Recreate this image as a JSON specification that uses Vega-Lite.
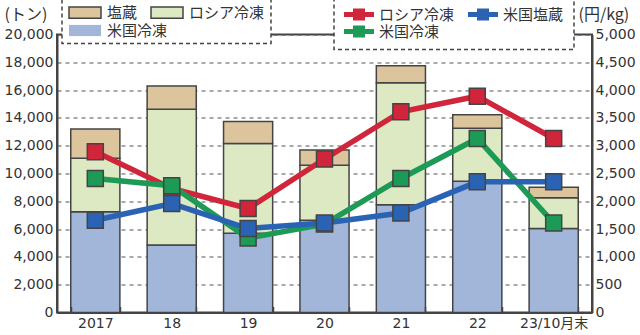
{
  "$schema": "https://vega.github.io/schema/vega-lite/v6.json",
  "autosize": {"type": "none"},
  "padding": {"left": 57, "top": 34.5, "right": 48, "bottom": 22.5},
  "width": 535,
  "height": 278,
  "background": "white",
  "config": {
    "view": {"stroke": "#444", "strokeWidth": 2},
    "font": "DejaVu Sans",
    "axis": {
      "labelFont": "DejaVu Sans, Noto Sans CJK JP",
      "labelFontSize": 14,
      "labelColor": "#333",
      "labelOverlap": false,
      "domainColor": "#444",
      "domainWidth": 2,
      "titleFont": "Noto Sans CJK JP",
      "titleFontSize": 16,
      "titleFontWeight": "normal",
      "titleColor": "#333"
    },
    "legend": {
      "strokeDash": [4, 3],
      "strokeWidth": 1.5,
      "labelFont": "Noto Sans CJK JP",
      "labelFontSize": 15,
      "labelColor": "#333"
    }
  },
  "datasets": {
    "bars": [
      {"year": "2017", "kind": "米国冷凍", "o": 1, "tons": 7250},
      {"year": "2017", "kind": "ロシア冷凍", "o": 2, "tons": 3850},
      {"year": "2017", "kind": "塩蔵", "o": 3, "tons": 2100},
      {"year": "18", "kind": "米国冷凍", "o": 1, "tons": 4850},
      {"year": "18", "kind": "ロシア冷凍", "o": 2, "tons": 9780},
      {"year": "18", "kind": "塩蔵", "o": 3, "tons": 1670},
      {"year": "19", "kind": "米国冷凍", "o": 1, "tons": 5700},
      {"year": "19", "kind": "ロシア冷凍", "o": 2, "tons": 6450},
      {"year": "19", "kind": "塩蔵", "o": 3, "tons": 1600},
      {"year": "20", "kind": "米国冷凍", "o": 1, "tons": 6640},
      {"year": "20", "kind": "ロシア冷凍", "o": 2, "tons": 3950},
      {"year": "20", "kind": "塩蔵", "o": 3, "tons": 1100},
      {"year": "21", "kind": "米国冷凍", "o": 1, "tons": 7750},
      {"year": "21", "kind": "ロシア冷凍", "o": 2, "tons": 8780},
      {"year": "21", "kind": "塩蔵", "o": 3, "tons": 1220},
      {"year": "22", "kind": "米国冷凍", "o": 1, "tons": 9440},
      {"year": "22", "kind": "ロシア冷凍", "o": 2, "tons": 3820},
      {"year": "22", "kind": "塩蔵", "o": 3, "tons": 960},
      {"year": "23/10月末", "kind": "米国冷凍", "o": 1, "tons": 6040},
      {"year": "23/10月末", "kind": "ロシア冷凍", "o": 2, "tons": 2220},
      {"year": "23/10月末", "kind": "塩蔵", "o": 3, "tons": 750}
    ],
    "prices": [
      {"year": "2017", "series": "ロシア冷凍", "price": 2890},
      {"year": "18", "series": "ロシア冷凍", "price": 2230},
      {"year": "19", "series": "ロシア冷凍", "price": 1870},
      {"year": "20", "series": "ロシア冷凍", "price": 2760},
      {"year": "21", "series": "ロシア冷凍", "price": 3610},
      {"year": "22", "series": "ロシア冷凍", "price": 3890},
      {"year": "23/10月末", "series": "ロシア冷凍", "price": 3130},
      {"year": "2017", "series": "米国冷凍", "price": 2410},
      {"year": "18", "series": "米国冷凍", "price": 2280},
      {"year": "19", "series": "米国冷凍", "price": 1340},
      {"year": "20", "series": "米国冷凍", "price": 1590},
      {"year": "21", "series": "米国冷凍", "price": 2410},
      {"year": "22", "series": "米国冷凍", "price": 3130},
      {"year": "23/10月末", "series": "米国冷凍", "price": 1610},
      {"year": "2017", "series": "米国塩蔵", "price": 1660},
      {"year": "18", "series": "米国塩蔵", "price": 1960},
      {"year": "19", "series": "米国塩蔵", "price": 1510},
      {"year": "20", "series": "米国塩蔵", "price": 1610},
      {"year": "21", "series": "米国塩蔵", "price": 1790},
      {"year": "22", "series": "米国塩蔵", "price": 2350},
      {"year": "23/10月末", "series": "米国塩蔵", "price": 2350}
    ]
  },
  "layer": [
    {
      "layer": [
        {
          "data": {"name": "bars"},
          "mark": {"type": "bar", "stroke": "#444", "strokeWidth": 1.5},
          "encoding": {
            "x": {
              "field": "year", "type": "nominal", "title": null,
              "scale": {"domain": ["2017", "18", "19", "20", "21", "22", "23/10月末"], "paddingInner": 0.357, "paddingOuter": 0.18},
              "axis": {"labelAngle": 0, "ticks": true, "tickBand": "extent", "tickSize": -6, "tickColor": "#444", "tickWidth": 1.5, "labelPadding": 10, "zindex": 1}
            },
            "y": {
              "field": "tons", "type": "quantitative", "stack": "zero",
              "scale": {"domain": [0, 20000], "nice": false},
              "axis": {
                "orient": "left", "values": [0, 2000, 4000, 6000, 8000, 10000, 12000, 14000, 16000, 18000, 20000],
                "format": ",d", "ticks": false, "tickSize": 0, "labelPadding": 4, "labelOverlap": false,
                "grid": true, "gridColor": "#555", "gridDash": [4, 4], "gridWidth": 1.2,
                "title": "(トン)", "titleAngle": 0, "titleAlign": "left", "titleBaseline": "middle", "titleX": -53, "titleY": -20.5
              }
            },
            "fill": {
              "field": "kind", "type": "nominal",
              "scale": {"domain": ["塩蔵", "ロシア冷凍", "米国冷凍"], "range": ["#dcc49c", "#dde9c3", "#a1b6d9"]},
              "legend": {
                "orient": "none", "legendX": 5, "legendY": -37, "direction": "horizontal", "columns": 2,
                "values": ["塩蔵", "ロシア冷凍"],
                "title": " ", "titleOrient": "bottom", "titleFontSize": 1, "titlePadding": 15,
                "symbolType": "M-1,-0.7H3V0.7H-1Z", "symbolSize": 256, "symbolStrokeColor": "#444", "symbolStrokeWidth": 1.5,
                "symbolOpacity": 1,
                "labelOffset": 21, "columnPadding": 10, "rowPadding": 1, "padding": 6,
                "strokeColor": "#444", "fillColor": "white", "zindex": 0
              }
            },
            "order": {"field": "o", "type": "quantitative"}
          }
        },
        {
          "data": {"name": "bars"},
          "transform": [{"filter": "datum.kind === '米国冷凍' && datum.year === '2017'"}],
          "mark": {"type": "point", "filled": true, "size": 0, "color": "#a1b6d9", "stroke": "#444", "strokeWidth": 1.5},
          "encoding": {
            "shape": {
              "field": "kind", "type": "nominal",
              "scale": {"domain": ["米国冷凍"], "range": ["M-1,-0.7H3V0.7H-1Z"]},
              "legend": {
                "orient": "none", "legendX": 5, "legendY": -19, "title": null,
                "symbolSize": 256, "symbolFillColor": "#a1b6d9", "symbolStrokeColor": "#444", "symbolStrokeWidth": 1.5,
                "symbolOpacity": 1, "labelOffset": 21, "padding": 6, "zindex": 1,
                "encode": {"symbols": {"update": {"fill": {"value": "#a1b6d9"}, "fillOpacity": {"value": 1}, "stroke": {"value": "#444"}, "strokeWidth": {"value": 1.5}, "strokeOpacity": {"value": 1}}}}
              }
            }
          }
        }
      ]
    },
    {
      "encoding": {
        "x": {"field": "year", "type": "nominal", "title": null},
        "y": {
          "field": "price", "type": "quantitative",
          "scale": {"domain": [0, 5000], "nice": false},
          "axis": {
            "orient": "right", "values": [0, 500, 1000, 1500, 2000, 2500, 3000, 3500, 4000, 4500, 5000],
            "format": ",d", "ticks": false, "tickSize": 0, "labelPadding": 3, "grid": false, "labelOverlap": false,
            "title": "(円/kg)", "titleAngle": 0, "titleAlign": "left", "titleBaseline": "middle", "titleX": -14, "titleY": -20.5
          }
        },
        "color": {
          "field": "series", "type": "nominal",
          "scale": {"domain": ["ロシア冷凍", "米国塩蔵", "米国冷凍"], "range": ["#d0253a", "#2a63b4", "#1d9a55"]},
          "legend": {
            "orient": "none", "legendX": 277, "legendY": -38, "direction": "horizontal", "columns": 2, "title": null,
            "symbolType": "M-1,-0.32H2.75V0.32H-1Z M0.125,-0.75H1.625V0.75H0.125Z", "symbolSize": 256, "symbolStrokeWidth": 0,
            "symbolOpacity": 1,
            "labelOffset": 19, "columnPadding": 13, "rowPadding": 1, "padding": 10,
            "strokeColor": "#444", "fillColor": "white",
            "encode": {"symbols": {"update": {"fill": {"scale": "color", "field": "value"}, "fillOpacity": {"value": 1}}}}
          }
        }
      },
      "layer": [
        {
          "data": {"name": "prices"},
          "mark": {"type": "line", "strokeWidth": 5.5}
        },
        {
          "data": {"name": "prices"},
          "mark": {"type": "point", "shape": "square", "filled": true, "size": 256, "stroke": "#444", "strokeWidth": 1.5, "opacity": 1}
        }
      ]
    }
  ],
  "resolve": {"scale": {"y": "independent"}}
}
